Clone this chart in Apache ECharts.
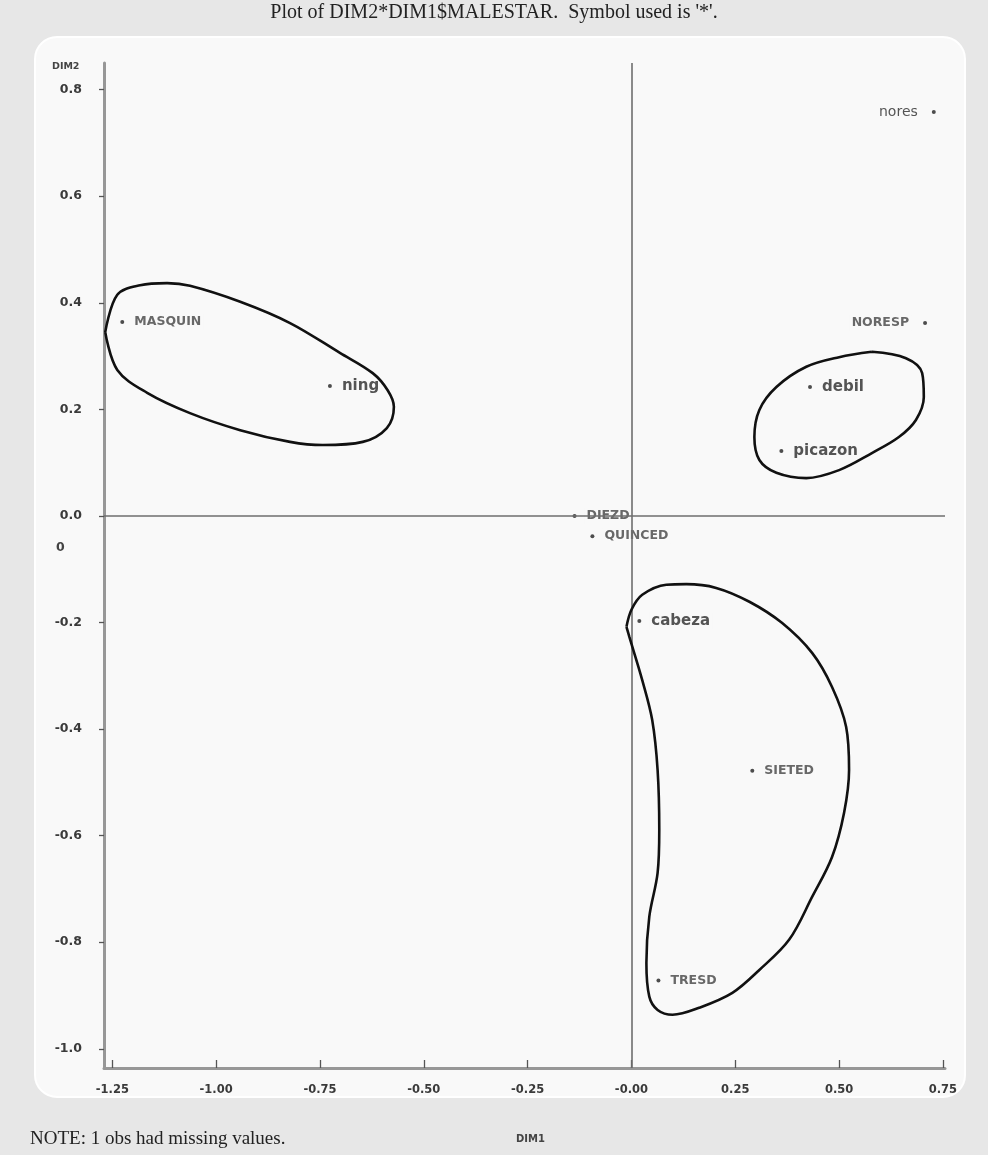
<!DOCTYPE html>
<html><head><meta charset="utf-8">
<script src="https://cdn.jsdelivr.net/npm/echarts@6/dist/echarts.min.js"></script>
<style>html,body{margin:0;padding:0;background:#e7e7e7;} #chart{width:988px;height:1155px;}</style>
</head><body><div id="chart"></div>
<script>
// ---- data ----
const pointNames = ['nores','NORESP','MASQUIN','ning','debil','picazon','DIEZD','QUINCED','cabeza','SIETED','TRESD'];
const pointX = [0.728, 0.707, -1.226, -0.726, 0.430, 0.361, -0.137, -0.094, 0.019, 0.291, 0.065];
const pointY = [0.758, 0.362, 0.364, 0.244, 0.242, 0.122, 0.000, -0.038, -0.197, -0.478, -0.872];

const xTickValues = [-1.25, -1.00, -0.75, -0.50, -0.25, 0, 0.25, 0.50, 0.75];
const xTickLabels = ['-1.25', '-1.00', '-0.75', '-0.50', '-0.25', '-0.00', '0.25', '0.50', '0.75'];
const yTickValues = [-1.0, -0.8, -0.6, -0.4, -0.2, 0, 0.2, 0.4, 0.6, 0.8];
const yTickLabels = ['-1.0', '-0.8', '-0.6', '-0.4', '-0.2', '0.0', '0.2', '0.4', '0.6', '0.8'];

// hand-drawn group outlines (data coordinates)
const groupAX = [-1.267, -1.238, -1.183, -1.118, -1.063, -0.942, -0.822, -0.702, -0.623, -0.587, -0.572, -0.589, -0.647, -0.743, -0.822, -0.942, -1.063, -1.166, -1.238];
const groupAY = [0.345, 0.415, 0.433, 0.437, 0.432, 0.402, 0.362, 0.306, 0.268, 0.236, 0.205, 0.165, 0.139, 0.133, 0.139, 0.161, 0.193, 0.231, 0.274];
const groupBX = [0.579, 0.500, 0.421, 0.349, 0.308, 0.296, 0.308, 0.349, 0.421, 0.500, 0.579, 0.644, 0.685, 0.704, 0.700, 0.661];
const groupBY = [0.308, 0.298, 0.280, 0.242, 0.199, 0.148, 0.105, 0.081, 0.071, 0.086, 0.118, 0.148, 0.180, 0.223, 0.268, 0.296];
const groupCX = [-0.012, 0.000, 0.026, 0.084, 0.132, 0.204, 0.284, 0.363, 0.435, 0.483, 0.517, 0.524, 0.512, 0.483, 0.435, 0.380, 0.308, 0.243, 0.163, 0.099, 0.063, 0.043, 0.036, 0.043, 0.063, 0.067, 0.063, 0.050, 0.026, -0.005];
const groupCY = [-0.208, -0.176, -0.148, -0.129, -0.128, -0.135, -0.161, -0.201, -0.257, -0.321, -0.396, -0.477, -0.557, -0.640, -0.715, -0.795, -0.852, -0.895, -0.923, -0.936, -0.927, -0.902, -0.839, -0.752, -0.670, -0.589, -0.477, -0.383, -0.308, -0.227];

// ---- chart ----
const leftLabeled = new Set(['nores', 'NORESP']);
function closed(xs, ys) {
  const d = xs.map((x, i) => [x, ys[i]]);
  d.push(d[0]);
  return d;
}
function outline(xs, ys) {
  return {
    type: 'line', data: closed(xs, ys), smooth: 0.35, symbol: 'none', z: 5, silent: true,
    lineStyle: { color: '#111', width: 2.6 }
  };
}
const pointData = pointNames.map((n, i) => {
  const lower = n === n.toLowerCase();
  return {
    name: n, value: [pointX[i], pointY[i]],
    label: {
      position: leftLabeled.has(n) ? 'left' : 'right',
      distance: leftLabeled.has(n) ? 12 : 8,
      fontSize: lower ? (n === 'nores' ? 14 : 15) : 12.5,
      fontWeight: n === 'nores' ? 'normal' : 'bold',
      color: lower ? '#2a2a2a' : '#444'
    }
  };
});

const chart = echarts.init(document.getElementById('chart'), null, { renderer: 'canvas' });
chart.setOption({
  animation: false,
  backgroundColor: '#e7e7e7',
  textStyle: { fontFamily: 'DejaVu Sans' },
  grid: { left: 104, right: 43, top: 63, bottom: 87 },
  xAxis: {
    type: 'value', min: -1.27, max: 0.755, splitLine: { show: false },
    axisLine: { onZero: false, lineStyle: { color: '#979797', width: 3 } },
    axisTick: { customValues: xTickValues, inside: true, length: 8, lineStyle: { color: '#555', width: 1.3 } },
    axisLabel: {
      customValues: xTickValues, margin: 16, fontSize: 11.5, fontWeight: 'bold', color: '#3a3a3a',
      formatter: v => { const k = xTickValues.findIndex(t => Math.abs(t - v) < 1e-9); return k >= 0 ? xTickLabels[k] : ''; }
    }
  },
  yAxis: {
    type: 'value', min: -1.036, max: 0.85, splitLine: { show: false },
    axisLine: { onZero: false, lineStyle: { color: '#979797', width: 3 } },
    axisTick: { customValues: yTickValues, length: 5, lineStyle: { color: '#555', width: 1.3 } },
    axisLabel: {
      customValues: yTickValues, margin: 22, fontSize: 12.5, fontWeight: 'bold', color: '#3a3a3a',
      formatter: v => { const k = yTickValues.findIndex(t => Math.abs(t - v) < 1e-9); return k >= 0 ? yTickLabels[k] : ''; }
    }
  },
  graphic: { elements: [
    { type: 'rect', z: -10, shape: { x: 35, y: 37, width: 930, height: 1060, r: 22 },
      style: { fill: '#f9f9f9', stroke: '#ffffff', lineWidth: 2 } },
    { type: 'text', left: 'center', top: 3,
      style: { text: "Plot of DIM2*DIM1$MALESTAR.  Symbol used is '*'.", font: '20px "Liberation Serif"', fill: '#222' } },
    { type: 'text', left: 52, top: 62, style: { text: 'DIM2', font: 'bold 9.5px "DejaVu Sans"', fill: '#444' } },
    { type: 'text', left: 56, top: 541, style: { text: '0', font: 'bold 12.5px "DejaVu Sans"', fill: '#444' } },
    { type: 'text', left: 30, top: 1130, style: { text: 'NOTE: 1 obs had missing values.', font: '19px "Liberation Serif"', fill: '#222' } },
    { type: 'text', left: 516, top: 1134, style: { text: 'DIM1', font: 'bold 10px "DejaVu Sans"', fill: '#444' } }
  ] },
  series: [
    {
      type: 'scatter', data: pointData, z: 3, silent: true,
      symbol: 'circle', symbolSize: 4, itemStyle: { color: '#222' },
      label: { show: true, formatter: '{b}', backgroundColor: '#f9f9f9', padding: [1, 2] },
      markLine: {
        silent: true, symbol: ['none', 'none'], label: { show: false },
        lineStyle: { color: '#6e6e6e', width: 1.6, type: 'solid' },
        data: [{ xAxis: 0 }, { yAxis: 0 }]
      }
    },
    outline(groupAX, groupAY),
    outline(groupBX, groupBY),
    outline(groupCX, groupCY)
  ]
});
</script>
</body></html>
